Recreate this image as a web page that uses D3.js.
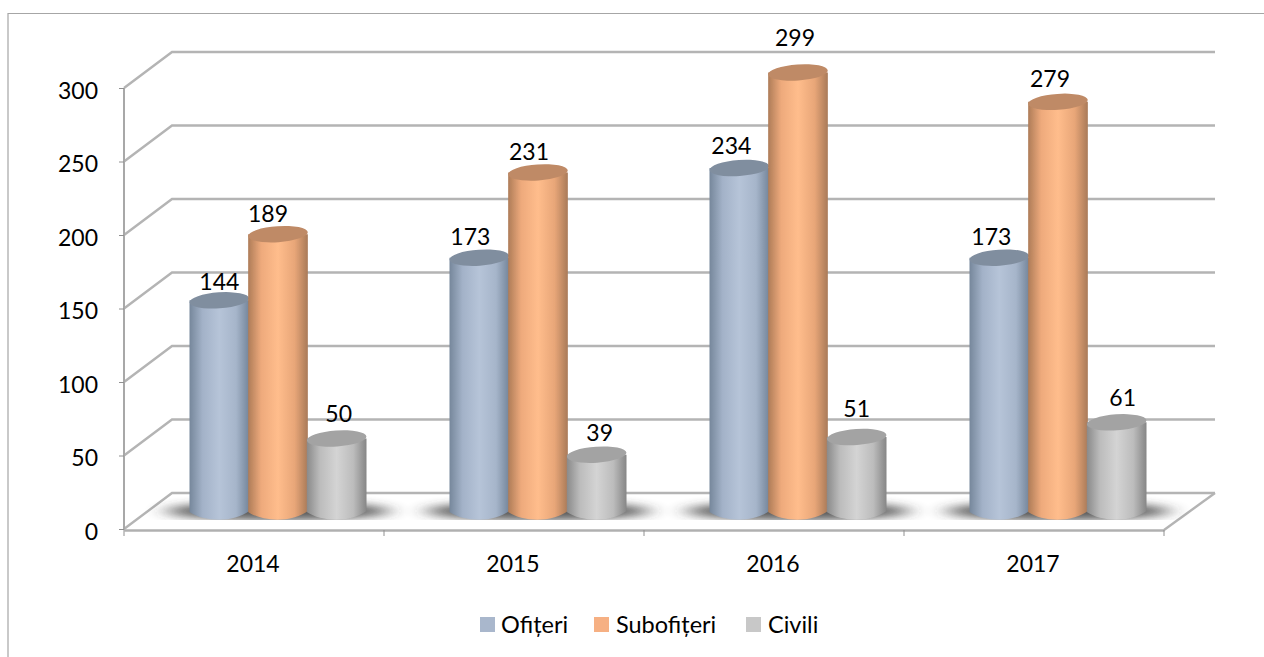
<!DOCTYPE html>
<html><head><meta charset="utf-8">
<script src="https://cdn.jsdelivr.net/npm/d3@7"></script>
<style>
html,body{margin:0;padding:0;background:#fff;overflow:hidden}
text{font-family:"Lato",sans-serif;fill:#000}
</style></head><body><svg id="c" width="1264" height="657"></svg>
<script>
const years=["2014","2015","2016","2017"];
const seriesNames=["Ofițeri","Subofițeri","Civili"];
const ofiteri=[144,173,234,173];
const subofiteri=[189,231,299,279];
const civili=[50,39,51,61];
const yTicks=[0,50,100,150,200,250,300];
const seriesValues=[ofiteri,subofiteri,civili];
const swatch=["#a9b7cc","#f6b083","#c8c8c8"];
const capColor=["#808e9f","#bf8a66","#a3a3a3"];
const gradStops=[["#76879b","#a3b2c8","#b6c4d8","#a6b5ca","#74859a"],
                 ["#ae7c58","#eeaa7c","#ffbd8c","#e8a678","#a97a58"],
                 ["#8a8a8a","#bcbcbc","#d4d4d4","#bcbcbc","#868686"]];
// label placement tweaks per series/year (the source chart nudges its labels)
const labelShiftX=[[0,-9,-8,-8],[-10,-9,-3,-8],[2,3,0,6]];
const labelLift=[[19,21,22,21],[20,21,35,23],[25,22,28,25]];

const svg=d3.select("#c");
const L=124,R=1164,Y0=529,Y300=88,dx=48,dy=-36;
const x=d3.scaleBand().domain(years).range([L,R]);
const y=d3.scaleLinear().domain([0,300]).range([Y0,Y300]);
const barX=d3.scaleBand().domain(d3.range(3)).range([66,242]);
const barH=d3.scaleLinear().domain([0,300]).range([0,441]);
const baseY=512, ry=8;

const defs=svg.append("defs");
gradStops.forEach((s,i)=>{
  const g=defs.append("linearGradient").attr("id","g"+i);
  [0,.22,.5,.78,1].forEach((o,k)=>g.append("stop").attr("offset",o).attr("stop-color",s[k]));
});
defs.append("filter").attr("id","blur").attr("x","-30%").attr("y","-300%").attr("width","160%").attr("height","700%")
  .append("feGaussianBlur").attr("stdDeviation","11 4");
defs.append("filter").attr("id","soft").attr("x","-5%").attr("y","-5%").attr("width","110%").attr("height","110%")
  .append("feGaussianBlur").attr("stdDeviation","0.6");
defs.append("clipPath").attr("id","floorClip").append("rect").attr("x",100).attr("y",495).attr("width",1100).attr("height",25);

// frame
svg.append("path").attr("d","M8,657V13.5H1264").attr("fill","none").attr("stroke","#a6a6a6").attr("stroke-width",1.2);

// walls
const wall=svg.append("g").attr("fill","none").attr("stroke","#b4b4b4").attr("stroke-width",2.4).attr("filter","url(#soft)");
yTicks.forEach(t=>{
  const p=d3.path();
  p.moveTo(L,y(t));p.lineTo(L+dx,y(t)+dy);p.lineTo(R+dx+3,y(t)+dy);
  wall.append("path").attr("d",p.toString());
});
const fl=d3.path();
fl.moveTo(R,y(0)+1);fl.lineTo(R+dx+3,y(0)+dy);
wall.append("path").attr("d",fl.toString());

// axes
const yAxis=d3.axisLeft(y).tickValues(yTicks).tickSize(5).tickPadding(21);
const gy=svg.append("g").attr("transform",`translate(${L},0)`).call(yAxis);
gy.select(".domain").attr("stroke","#a8a8a8").attr("stroke-width",2).attr("d",`M0,${Y300}V${Y0+1}`);
gy.selectAll("line").attr("stroke","#909090");
gy.selectAll("text").style("font-size","23px").attr("dy","0.44em");
const xAxis=d3.axisBottom(x).tickSize(0).tickPadding(26);
const gx=svg.append("g").attr("transform",`translate(0,${Y0+1})`).call(xAxis);
gx.select(".domain").attr("stroke","#b0b0b0").attr("stroke-width",2.4);
gx.selectAll("text").style("font-size","23px").attr("dx","-1");
[...years.map(c=>x(c)),R].forEach(v=>{
  svg.append("line").attr("x1",v).attr("x2",v).attr("y1",Y0+1).attr("y2",Y0+7).attr("stroke","#909090");
});

// shadows
const shadowLayer=svg.append("g").attr("clip-path","url(#floorClip)");
years.forEach(c=>{
  shadowLayer.append("ellipse").attr("cx",x(c)+154).attr("cy",511).attr("rx",112).attr("ry",9)
    .attr("fill","#303030").attr("opacity",.8).attr("filter","url(#blur)");
});

// bars
const rx=barX.bandwidth()/2+.5;
seriesValues.forEach((vals,i)=>{
  const g=svg.append("g");
  vals.forEach((v,j)=>{
    const cx=x(years[j])+barX(i)+barX.bandwidth()/2, top=baseY-barH(v);
    const b=g.append("g").attr("filter","url(#soft)");
    const p=d3.path();
    p.moveTo(cx-rx,top);p.lineTo(cx-rx,baseY);
    p.bezierCurveTo(cx-rx*.5,baseY+ry*1.3,cx+rx*.5,baseY+ry*1.3,cx+rx,baseY-1);
    p.lineTo(cx+rx,top);p.closePath();
    b.append("path").attr("d",p.toString()).attr("fill",`url(#g${i})`);
    b.append("ellipse").attr("cx",cx).attr("cy",top).attr("rx",rx).attr("ry",ry)
      .attr("fill",capColor[i]).attr("transform",`rotate(-4 ${cx} ${top})`);
    svg.append("text").attr("class","lbl").attr("x",cx+labelShiftX[i][j]).attr("y",top-labelLift[i][j]).attr("dy","0.36em").attr("text-anchor","middle")
      .style("font-size","23px").text(v);
  });
});
svg.selectAll("text.lbl").raise();

// legend
const lg=svg.append("g");
const lx=[480,594,746],tx=[501,616,768];
seriesNames.forEach((n,i)=>{
  lg.append("rect").attr("x",lx[i]).attr("y",617).attr("width",15).attr("height",15).attr("fill",swatch[i]);
  lg.append("text").attr("x",tx[i]).attr("y",633).style("font-size","23.5px").text(n);
});
</script></body></html>
